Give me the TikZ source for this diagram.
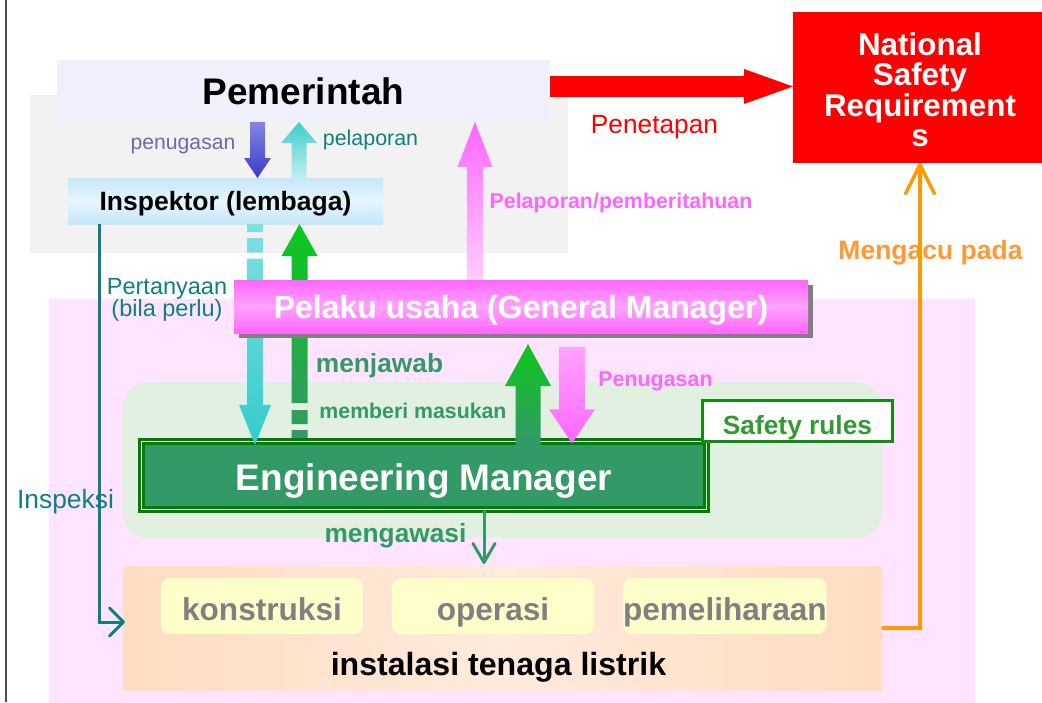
\documentclass[tikz,border=0pt]{standalone}
\usepackage{fontspec}
\setmainfont{Liberation Sans}
\usetikzlibrary{calc,arrows.meta,shadows}

\pgfdeclarelayer{front}
\pgfsetlayers{main,front}

% font size in pt with equal leading
\newcommand\setfs[1]{\fontsize{#1pt}{#1pt}\selectfont}

% block arrow: options, tail, tip, shaft half width, head half width, head length
\newcommand\blockarrow[6]{%
  \coordinate (neckpt) at ($(#3)!#6!(#2)$);
  \path[#1] ($(#2)!#4!90:(#3)$) -- ($(neckpt)!#4!90:(#3)$) -- ($(neckpt)!#5!90:(#3)$) -- (#3)
    -- ($(neckpt)!#5!-90:(#3)$) -- ($(neckpt)!#4!-90:(#3)$) -- ($(#2)!#4!-90:(#3)$) -- cycle;}

\definecolor{framegray}{HTML}{4D4D4D}
\definecolor{govgray}{HTML}{F2F2F2}
\definecolor{pemfill}{HTML}{F0F0FC}
\definecolor{zonepink}{HTML}{FFE4FF}
\definecolor{zonegreen}{HTML}{E2F0E2}
\definecolor{nsrred}{HTML}{FE0000}
\definecolor{inspblue}{HTML}{C6E7FA}
\definecolor{inspblue2}{HTML}{E6F5FE}
\definecolor{emfill}{HTML}{339966}
\definecolor{emline}{HTML}{008000}
\definecolor{rulegreen}{HTML}{138A13}
\definecolor{ruletext}{HTML}{339933}
\definecolor{inspteal}{HTML}{0E8080}
\definecolor{orgline}{HTML}{FF9900}
\definecolor{orgtext}{HTML}{FF9933}
\definecolor{bizpink}{HTML}{FF66FF}
\definecolor{bizlight}{HTML}{FFA3FF}
\definecolor{replight}{HTML}{FFCCFF}
\definecolor{pinkdown}{HTML}{FFA3FF}
\definecolor{shadowgray}{HTML}{808080}
\definecolor{penblue1}{HTML}{8585E0}
\definecolor{penblue2}{HTML}{3A3ACC}
\definecolor{penlabel}{HTML}{6B6BAF}
\definecolor{pelteal1}{HTML}{40CCCC}
\definecolor{pelteal2}{HTML}{C0F0F0}
\definecolor{cyan1}{HTML}{80E0E0}
\definecolor{cyan2}{HTML}{33CCCC}
\definecolor{green1}{HTML}{0CC81C}
\definecolor{green2}{HTML}{22B040}
\definecolor{instpeach}{HTML}{FFDDC0}
\definecolor{instlight}{HTML}{FFEADC}
\definecolor{taskyellow}{HTML}{FFFFCC}
\definecolor{taskgray}{HTML}{808080}

\tikzset{
  zone/.style={rectangle, inner sep=0pt, outer sep=0pt, anchor=north west},
  plain/.style={rectangle, inner sep=0pt, outer sep=0pt},
  lbl/.style={inner sep=0pt, outer sep=0pt, anchor=base},
  task/.style={zone, rounded corners=9pt, fill=taskyellow, minimum width=202pt,
    minimum height=56pt, text=taskgray, font=\bfseries\setfs{31.6},
    text height=28pt, text depth=0pt},
  inspline/.style={draw=inspteal, line width=3pt,
    -{Straight Barb[length=14pt,width=28pt,round]}},
  superline/.style={draw=emfill, line width=3pt,
    -{Straight Barb[length=19pt,width=22pt,round]}},
  refline/.style={draw=orgline, line width=3.5pt,
    -{Straight Barb[length=29pt,width=29pt,round]}},
}

\begin{document}
\begin{tikzpicture}[x=1pt,y=-1pt]
\useasboundingbox (0,0) rectangle (1042,702);
\fill[white] (0,0) rectangle (1042,702);

% page frame on the left
\draw[framegray, line width=2pt] (6,0) -- (6,702);

% background zones
\node[zone, fill=govgray, minimum width=538pt, minimum height=158pt] (govzone) at (30,95) {};
\node[zone, fill=zonepink, minimum width=926pt, minimum height=410pt] (bizzone) at (49,299) {};
\node[zone, rounded corners=25pt, fill=zonegreen, minimum width=759pt, minimum height=156pt] (emzone) at (123,382) {};

% main boxes
\node[zone, fill=pemfill, minimum width=493pt, minimum height=62pt,
  font=\bfseries\setfs{37}, text height=26pt, text depth=0pt] (pem) at (57,60) {Pemerintah};
\node[zone, fill=nsrred, minimum width=254pt, minimum height=151pt] (nsr) at (793,12) {};
\node[plain, anchor=north, align=center, text=white,
  font=\bfseries\fontsize{31.4pt}{30.5pt}\selectfont] (nsrtext) at (920,32.3)
  {National\\Safety\\Requirement\\s};

\node[zone, left color=instpeach, right color=instpeach, middle color=instlight,
  minimum width=759pt, minimum height=124pt] (inst) at (123,566) {};
\node[lbl, font=\bfseries\setfs{32.1}] (insttext) at (498.5,675) {instalasi tenaga listrik};
\node[task] (konst) at (161,578) {konstruksi};
\node[task] (oper) at (392,578) {operasi};
\node[task, minimum width=203pt] (pemel) at (623,578) {pemeliharaan};

\node[plain, fill=emfill, draw=emline, line width=2.6pt, double=white, double distance=1.4pt,
  minimum width=565.4pt, minimum height=68.4pt, text=white,
  font=\bfseries\setfs{37}, text height=29pt, text depth=0pt] (em) at (424,475.5) {Engineering Manager};
\node[plain, fill=white, draw=rulegreen, line width=3pt, minimum width=190pt, minimum height=41pt,
  text=ruletext, font=\bfseries\setfs{26.3}, text height=26pt, text depth=0pt] (rules) at (797.5,421) {Safety rules};

\node[zone, top color=inspblue, bottom color=inspblue, middle color=inspblue2,
  minimum width=315pt, minimum height=46pt, font=\bfseries\setfs{26.5},
  text height=19.4pt, text depth=0pt] (insp) at (68,178) {Inspektor (lembaga)};

\begin{pgfonlayer}{front}
\node[zone, top color=bizpink, bottom color=bizpink, middle color=bizlight,
  general shadow={fill=shadowgray, shadow xshift=5pt, shadow yshift=-5pt},
  minimum width=574pt, minimum height=53pt, text=white, font=\bfseries\setfs{32},
  text height=23pt, text depth=0pt] (pelaku) at (234,280) {Pelaku usaha (General Manager)};
\end{pgfonlayer}

% labels
\node[lbl, text=nsrred, font=\setfs{26.3}] (tfix) at (654.5,133) {Penetapan};
\node[lbl, text=penlabel, font=\setfs{21.2}] (tassigngov) at (183,149) {penugasan};
\node[lbl, text=inspteal, font=\setfs{21.4}] (treportgov) at (370.5,145) {pelaporan};
\node[lbl, text=bizpink, font=\bfseries\setfs{21.4}] (treport) at (621,208) {Pelaporan/pemberitahuan};
\node[lbl, text=orgtext, font=\bfseries\setfs{26.5}] (trefer) at (930.5,259) {Mengacu pada};
\node[plain, anchor=north, align=center, text=inspteal,
  font=\fontsize{23.5pt}{22pt}\selectfont] (tquery) at (167,278.2) {Pertanyaan\\(bila perlu)};
\node[lbl, text=inspteal, font=\setfs{26.4}] (tinspect) at (65.5,508) {Inspeksi};
\node[lbl, text=emfill, font=\bfseries\setfs{26.3}] (tanswer) at (379.5,372) {menjawab};
\node[lbl, text=emfill, font=\bfseries\setfs{21.3}] (tinput) at (413,418) {memberi masukan};
\node[lbl, text=bizpink, font=\bfseries\setfs{21.4}] (tassign) at (655.5,386) {Penugasan};
\node[lbl, text=emfill, font=\bfseries\setfs{26.3}] (tsupervise) at (395.5,542) {mengawasi};

% arrow axes
\coordinate (xpen) at (257.5,0);
\coordinate (xpel) at (299,0);
\coordinate (xrep) at (475,0);
\coordinate (xcy) at (255,0);
\coordinate (xgl) at (299.5,0);
\coordinate (xgr) at (528,0);
\coordinate (xpk) at (572,0);
\coordinate (xin) at (99,0);
\coordinate (xmw) at (484,0);
\coordinate (yred) at (0,86.5);

% arrow ends
\coordinate (redA) at (pem.east |- yred);
\coordinate (redB) at (nsr.west |- yred);
\coordinate (penA) at (xpen |- pem.south);
\coordinate (penB) at (xpen |- insp.north);
\coordinate (pelA) at (xpel |- insp.north);
\coordinate (pelB) at (xpel |- pem.south);
\coordinate (repA) at (xrep |- pelaku.north);
\coordinate (repB) at (xrep |- pem.south);
\coordinate (cyA) at (xcy |- insp.south);
\coordinate (cyB) at ($(xcy |- em.north)+(0,3.5)$);
\coordinate (glA) at ($(xgl |- em.north)+(0,-3.5)$);
\coordinate (glB) at (xgl |- insp.south);
\coordinate (grA) at ($(xgr |- em.north)+(0,3.5)$);
\coordinate (grB) at ($(xgr |- pelaku.south)+(0,11)$);
\coordinate (pkA) at ($(xpk |- pelaku.south)+(0,14)$);
\coordinate (pkB) at ($(xpk |- em.north)+(0,2)$);
\coordinate (inspT) at ($(inst.west)+(2,-6)$);
\coordinate (mwT) at ($(xmw |- inst.north)+(0,-2)$);

% block arrows
\blockarrow{fill=nsrred}{redA}{redB}{10.5pt}{17.5pt}{49pt}
\blockarrow{top color=penblue1, bottom color=penblue2}{penA}{penB}{7.5pt}{13.5pt}{20pt}
\blockarrow{top color=pelteal1, bottom color=pelteal2}{pelA}{pelB}{7.5pt}{18pt}{21pt}
\blockarrow{top color=bizpink, bottom color=replight}{repA}{repB}{8pt}{17.5pt}{45pt}
\begin{scope}[even odd rule]
  \clip (0,0) rectangle (1042,702)
    (240,232) rectangle (275,238) (240,252.5) rectangle (275,258.5);
  \blockarrow{top color=cyan1, bottom color=cyan2}{cyA}{cyB}{8pt}{16pt}{40pt}
\end{scope}
\begin{scope}[even odd rule]
  \clip (0,0) rectangle (1042,702)
    (285,403) rectangle (315,410) (285,424) rectangle (315,430);
  \blockarrow{top color=green1, middle color=green2, bottom color=emfill}{glA}{glB}{8pt}{18pt}{32pt}
\end{scope}
\blockarrow{top color=green1, bottom color=emfill}{grA}{grB}{12.5pt}{23pt}{42pt}
\blockarrow{top color=pinkdown, bottom color=bizpink}{pkA}{pkB}{13pt}{23pt}{34pt}

% line connectors
\draw[inspline] (insp.south -| xin) |- (inspT);
\draw[superline] (xmw |- em.south) -- (mwT);
\draw[refline] (inst.east) -| (nsr.south);
\end{tikzpicture}
\end{document}
